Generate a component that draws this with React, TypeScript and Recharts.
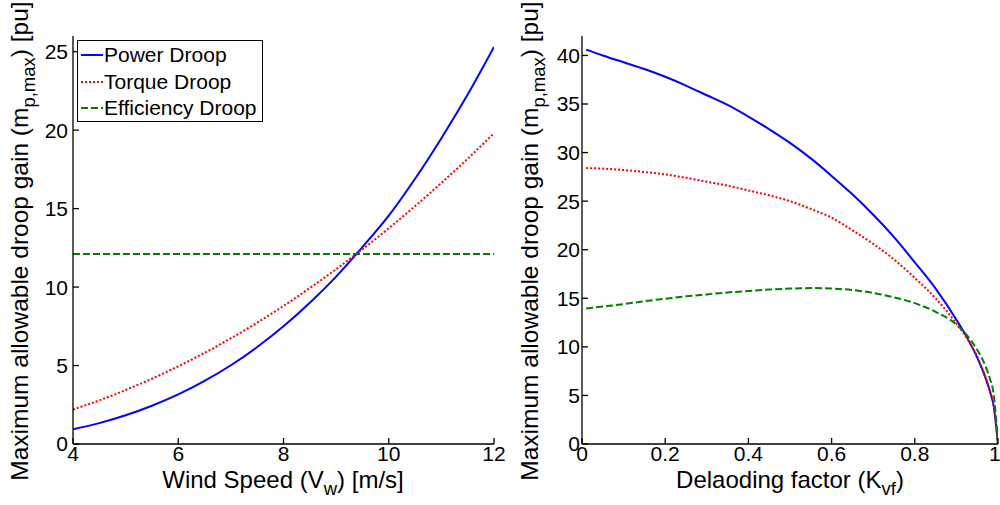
import React from "react";
import { LineChart, Line, XAxis, YAxis, Legend, Label } from "recharts";

// (a) gain vs wind speed
const windSpeed = [4, 4.5, 5, 5.5, 6, 6.5, 7, 7.5, 8, 8.5, 9, 9.5, 10, 10.5, 11, 11.5, 12];
const powerDroopA = [0.94, 1.33, 1.83, 2.44, 3.16, 4.02, 5.02, 6.18, 7.5, 9.0, 10.67, 12.55, 14.55, 16.9, 19.49, 22.27, 25.3];
const torqueDroopA = [2.2, 2.78, 3.44, 4.16, 4.95, 5.81, 6.74, 7.73, 8.8, 9.94, 11.14, 12.41, 13.75, 15.16, 16.64, 18.18, 19.8];
const efficiencyDroopA = [12.1, 12.1, 12.1, 12.1, 12.1, 12.1, 12.1, 12.1, 12.1, 12.1, 12.1, 12.1, 12.1, 12.1, 12.1, 12.1, 12.1];

// (b) gain vs deloading factor
const deloadFactor = [0.01, 0.05, 0.1, 0.15, 0.2, 0.25, 0.3, 0.35, 0.4, 0.45, 0.5, 0.55, 0.6, 0.65, 0.7, 0.75, 0.8, 0.85, 0.9, 0.925, 0.95, 0.97, 0.98, 0.99, 1.0];
const powerDroopB = [40.6, 40.0, 39.3, 38.6, 37.8, 36.9, 35.9, 34.9, 33.7, 32.4, 31.0, 29.4, 27.6, 25.7, 23.6, 21.3, 18.7, 16.0, 12.8, 11.0, 8.9, 6.8, 5.5, 3.8, 0];
const torqueDroopB = [28.4, 28.35, 28.2, 28.0, 27.75, 27.4, 27.0, 26.6, 26.1, 25.6, 25.0, 24.2, 23.3, 22.0, 20.6, 19.0, 17.1, 15.0, 12.4, 10.9, 9.0, 6.9, 5.6, 3.9, 0];
const efficiencyDroopB = [13.95, 14.15, 14.4, 14.7, 14.95, 15.2, 15.4, 15.6, 15.75, 15.9, 16.0, 16.05, 16.0, 15.85, 15.55, 15.1, 14.5, 13.6, 12.3, 11.2, 9.7, 8.0, 6.8, 5.0, 0];

const windTicks = [4, 6, 8, 10, 12];
const gainTicksA = [0, 5, 10, 15, 20, 25];
const deloadTicks = [0, 0.2, 0.4, 0.6, 0.8, 1];
const gainTicksB = [0, 5, 10, 15, 20, 25, 30, 35, 40];
const legendOrder = ["Power Droop", "Torque Droop", "Efficiency Droop"];

const FONT = "'Liberation Sans', Arial, Helvetica, sans-serif";
const BLUE = "#0000FF";
const RED = "#FF0000";
const GREEN = "#008000";
const DOTS = "2 2";
const DASHES = "7 3";

const dataA = windSpeed.map((v, i) => ({
  v,
  power: powerDroopA[i],
  torque: torqueDroopA[i],
  efficiency: efficiencyDroopA[i],
}));

const dataB = deloadFactor.map((k, i) => ({
  k,
  power: powerDroopB[i],
  torque: torqueDroopB[i],
  efficiency: efficiencyDroopB[i],
}));

const tickStyle = { fill: "#000", fontSize: 21, fontFamily: FONT };
const axisLine = { stroke: "#000", strokeWidth: 1.3 };

const GainLabel = ({ cx, cy }: { cx: number; cy: number }) => (
  <text
    x={cx}
    y={cy}
    transform={`rotate(-90, ${cx}, ${cy})`}
    textAnchor="middle"
    fontSize={24.5}
    fontFamily={FONT}
    fill="#000"
  >
    Maximum allowable droop gain (m
    <tspan dy={7} fontSize={18.5}>p,max</tspan>
    <tspan dy={-7}>) [pu]</tspan>
  </text>
);

const AxisTitle = ({ cx, y, main, sub, tail }: { cx: number; y: number; main: string; sub: string; tail: string }) => (
  <text x={cx} y={y} textAnchor="middle" fontSize={24} fontFamily={FONT} fill="#000">
    {main}
    <tspan dy={7} fontSize={18.5}>{sub}</tspan>
    <tspan dy={-7}>{tail}</tspan>
  </text>
);

const PanelTitle = ({ cx, text }: { cx: number; text: string }) => (
  <text x={cx} y={20} textAnchor="middle" fontSize={22} fontFamily={FONT} fill="#000">
    {text}
  </text>
);

const LegendBox = ({ payload }: any) => (
  <div
    style={{
      border: "1px solid #000",
      background: "#fff",
      width: 186,
      height: 82,
      boxSizing: "border-box",
      padding: "1px 0 0 3px",
      fontFamily: FONT,
      fontSize: 21,
      color: "#000",
      textAlign: "left",
    }}
  >
    {(payload || []).map((entry: any) => (
      <div key={entry.value} style={{ display: "flex", alignItems: "center", height: 26.5 }}>
        <svg width={22} height={10} style={{ marginRight: 1 }}>
          <line
            x1={0}
            y1={5}
            x2={22}
            y2={5}
            stroke={entry.color}
            strokeWidth={2}
            strokeDasharray={entry.payload?.strokeDasharray}
          />
        </svg>
        <span style={{ whiteSpace: "nowrap" }}>{entry.value}</span>
      </div>
    ))}
  </div>
);

export default function App() {
  return (
    <div style={{ position: "absolute", left: 0, top: 0, width: 1000, height: 505, background: "#fff" }}>
      <div style={{ position: "absolute", left: 0, top: 0 }}>
        <LineChart width={510} height={505} data={dataA} margin={{ top: 36, right: 16, bottom: 0, left: 0 }}>
          <XAxis
            dataKey="v"
            type="number"
            domain={[4, 12]}
            ticks={windTicks}
            allowDataOverflow
            height={61}
            axisLine={axisLine}
            tickLine={axisLine}
            tickSize={-6}
            tickMargin={8}
            tick={tickStyle}
          >
            <Label content={() => <AxisTitle cx={283} y={488} main="Wind Speed (V" sub="w" tail=") [m/s]" />} />
          </XAxis>
          <XAxis
            xAxisId="top"
            orientation="top"
            dataKey="v"
            type="number"
            domain={[4, 12]}
            ticks={windTicks}
            allowDataOverflow
            height={0}
            axisLine={axisLine}
            tickLine={axisLine}
            tickSize={-6}
            tick={false}
          >
            <Label content={() => <PanelTitle cx={283} text="(a)" />} />
          </XAxis>
          <YAxis
            type="number"
            domain={[0, 26]}
            ticks={gainTicksA}
            allowDataOverflow
            width={73}
            axisLine={axisLine}
            tickLine={axisLine}
            tickSize={-6}
            tickMargin={11}
            tick={tickStyle}
          >
            <Label content={() => <GainLabel cx={28} cy={241} />} />
          </YAxis>
          <YAxis
            yAxisId="right"
            orientation="right"
            type="number"
            domain={[0, 26]}
            ticks={gainTicksA}
            allowDataOverflow
            width={0}
            axisLine={axisLine}
            tickLine={axisLine}
            tickSize={-6}
            tick={false}
          />
          <Legend
            layout="vertical"
            align="center"
            verticalAlign="middle"
            itemSorter={(item: any) => legendOrder.indexOf(item.value)}
            content={<LegendBox />}
            wrapperStyle={{ position: "absolute", left: 77, top: 40, width: 186, height: 82 }}
          />
          <Line name="Power Droop" dataKey="power" type="monotone" stroke={BLUE} strokeWidth={2} dot={false} isAnimationActive={false} />
          <Line name="Torque Droop" dataKey="torque" type="monotone" stroke={RED} strokeWidth={2} strokeDasharray={DOTS} dot={false} isAnimationActive={false} />
          <Line name="Efficiency Droop" dataKey="efficiency" type="monotone" stroke={GREEN} strokeWidth={2} strokeDasharray={DASHES} dot={false} isAnimationActive={false} />
        </LineChart>
      </div>
      <div style={{ position: "absolute", left: 500, top: 0 }}>
        <LineChart width={500} height={505} data={dataB} margin={{ top: 36, right: 2, bottom: 0, left: 0 }}>
          <XAxis
            dataKey="k"
            type="number"
            domain={[0, 1]}
            ticks={deloadTicks}
            allowDataOverflow
            height={61}
            axisLine={axisLine}
            tickLine={axisLine}
            tickSize={-6}
            tickMargin={8}
            tick={tickStyle}
          >
            <Label content={() => <AxisTitle cx={290} y={488} main="Delaoding factor (K" sub="vf" tail=")" />} />
          </XAxis>
          <XAxis
            xAxisId="top"
            orientation="top"
            dataKey="k"
            type="number"
            domain={[0, 1]}
            ticks={deloadTicks}
            allowDataOverflow
            height={0}
            axisLine={axisLine}
            tickLine={axisLine}
            tickSize={-6}
            tick={false}
          >
            <Label content={() => <PanelTitle cx={290} text="(b)" />} />
          </XAxis>
          <YAxis
            type="number"
            domain={[0, 42]}
            ticks={gainTicksB}
            allowDataOverflow
            width={82}
            axisLine={axisLine}
            tickLine={axisLine}
            tickSize={-6}
            tickMargin={8}
            tick={tickStyle}
          >
            <Label content={() => <GainLabel cx={38} cy={241} />} />
          </YAxis>
          <YAxis
            yAxisId="right"
            orientation="right"
            type="number"
            domain={[0, 42]}
            ticks={gainTicksB}
            allowDataOverflow
            width={0}
            axisLine={axisLine}
            tickLine={axisLine}
            tickSize={-6}
            tick={false}
          />
          <Line name="Power Droop" dataKey="power" type="monotone" stroke={BLUE} strokeWidth={2} dot={false} isAnimationActive={false} />
          <Line name="Torque Droop" dataKey="torque" type="monotone" stroke={RED} strokeWidth={2} strokeDasharray={DOTS} dot={false} isAnimationActive={false} />
          <Line name="Efficiency Droop" dataKey="efficiency" type="monotone" stroke={GREEN} strokeWidth={2} strokeDasharray={DASHES} dot={false} isAnimationActive={false} />
        </LineChart>
      </div>
    </div>
  );
}
